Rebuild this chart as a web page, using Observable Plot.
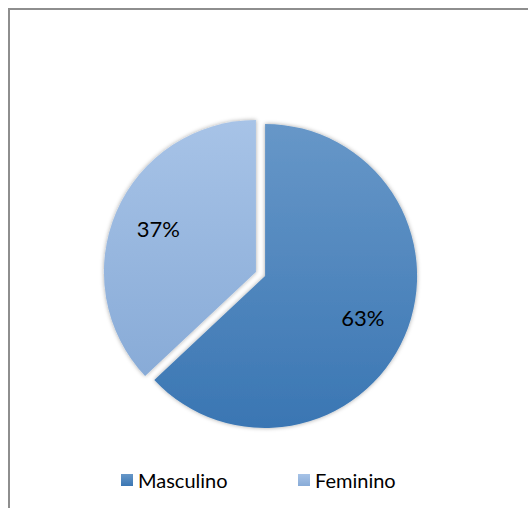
<!DOCTYPE html>
<html>
<head>
<meta charset="utf-8">
<script src="https://cdn.jsdelivr.net/npm/d3@7"></script>
<script src="https://cdn.jsdelivr.net/npm/@observablehq/plot@0.6"></script>
<style>
  html, body { margin: 0; padding: 0; background: #fff; overflow: hidden; width: 528px; height: 508px; }
  #frame { position: absolute; left: 8px; top: 8px; width: 560px; height: 560px;
           border-top: 2px solid #8e8e8e; border-left: 2px solid #8e8e8e; box-sizing: border-box; }
  #chart { position: absolute; left: 0; top: 0; }
  #legend { position: absolute; left: 0; top: 0; width: 528px; height: 508px; pointer-events: none;
            font-family: Lato, "Open Sans", sans-serif; font-size: 20px; color: #000; }
  .sw { position: absolute; width: 12px; height: 12px; }
  .lt { position: absolute; line-height: 22px; }
</style>
</head>
<body>
<div id="frame"></div>
<div id="chart"></div>
<div id="legend"></div>
<script>
// ---- data ----
const categories = ["Masculino", "Feminino"];
const values = [63, 37];
const labels = ["63%", "37%"];
const colors = ["#4a86c2", "#9bbbe3"];
const gradTop = ["#6797c8", "#a7c3e7"];
const gradBottom = ["#3a76b3", "#88abd7"];

const W = 528, H = 508;
const color = Plot.scale({color: {type: "ordinal", domain: categories, range: colors}});
const data = categories.map((c, i) => ({category: c, value: values[i], label: labels[i]}));

const pieMark = (index, scales, vals, dims) => {
  const cx = 260.5, cy = 274, R = 152, explode = 5;
  const g = d3.create("svg:g");
  const defs = g.append("defs");
  defs.append("filter").attr("id", "sh").attr("x", "-10%").attr("y", "-10%").attr("width", "120%").attr("height", "120%")
    .append("feDropShadow").attr("dx", 0).attr("dy", 0).attr("stdDeviation", 2)
    .attr("flood-color", "#000").attr("flood-opacity", 0.35);
  categories.forEach((c, i) => {
    const lg = defs.append("linearGradient").attr("id", "gr" + i).attr("x1", 0).attr("y1", 0).attr("x2", 0).attr("y2", 1);
    lg.append("stop").attr("offset", "0%").attr("stop-color", gradTop[i]);
    lg.append("stop").attr("offset", "100%").attr("stop-color", gradBottom[i]);
  });
  const arcs = d3.pie().sort(null).value(d => d.value)(data);
  const arc = d3.arc().innerRadius(0).outerRadius(R);
  const labelArc = d3.arc().innerRadius(R * 0.7).outerRadius(R * 0.7);
  arcs.forEach((a, i) => {
    const mid = (a.startAngle + a.endAngle) / 2;
    const dx = Math.sin(mid) * explode, dy = -Math.cos(mid) * explode;
    const sg = g.append("g").attr("transform", `translate(${cx + dx},${cy + dy})`);
    sg.append("path").attr("d", arc(a)).attr("fill", `url(#gr${i})`).attr("filter", "url(#sh)")
      .attr("data-color", color.apply(a.data.category));
    const [lx, ly] = labelArc.centroid(a);
    sg.append("text").attr("x", lx).attr("y", ly).attr("text-anchor", "middle").attr("dy", "0.35em")
      .attr("font-family", "Lato, 'Open Sans', sans-serif").attr("font-size", 22).attr("fill", "#000")
      .text(a.data.label);
  });
  return g.node();
};

const plot = Plot.plot({
  width: W, height: H, margin: 0,
  x: {domain: [0, W], axis: null},
  y: {domain: [0, H], axis: null},
  style: {background: "transparent", overflow: "visible"},
  marks: [pieMark]
});
document.getElementById("chart").appendChild(plot);

// legend
const legend = d3.select("#legend");
const legendX = [121, 298];
categories.forEach((c, i) => {
  legend.append("div").attr("class", "sw")
    .style("left", legendX[i] + "px").style("top", "474px")
    .style("background", `linear-gradient(${gradTop[i]}, ${gradBottom[i]})`);
  legend.append("div").attr("class", "lt")
    .style("left", (legendX[i] + 17) + "px").style("top", "469px").text(c);
});
</script>
</body>
</html>
